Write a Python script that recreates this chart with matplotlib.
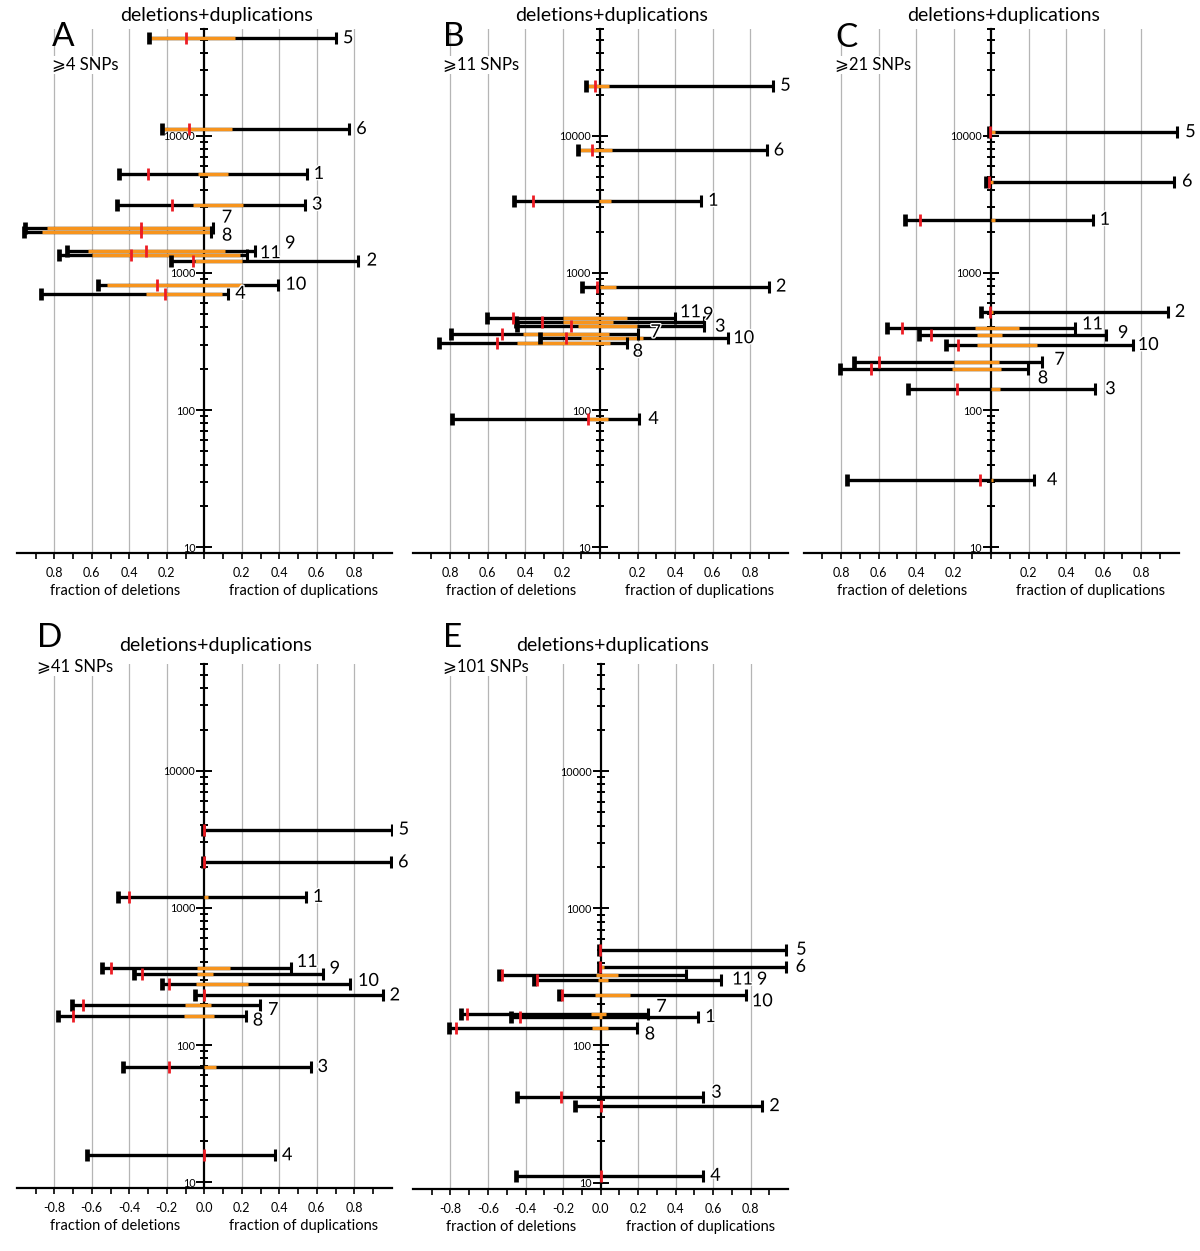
import numpy as np
import matplotlib
matplotlib.use('Agg')
import matplotlib.pyplot as plt
from matplotlib.ticker import LogLocator, NullFormatter
import matplotlib.patheffects as pe

plt.rcParams['font.family'] = ['Lato', 'DejaVu Sans']

#### data (bar ids 1..11, order kept by id) ####
ids = [1, 2, 3, 4, 5, 6, 7, 8, 9, 10, 11]

# A: >=4 SNPs
a_size = [5270, 1230, 3150, 705, 51500, 11200, 2140, 2000, 1340, 822, 1440]
a_lo = [-0.455, -0.178, -0.464, -0.873, -0.295, -0.227, -0.955, -0.96, -0.773, -0.569, -0.734]
a_hi = [0.546, 0.818, 0.537, 0.128, 0.702, 0.773, 0.045, 0.035, 0.228, 0.395, 0.27]
a_olo = [-0.032, -0.05, -0.062, -0.311, -0.295, -0.227, -0.84, -0.867, -0.60, -0.52, -0.62]
a_ohi = [0.128, 0.20, 0.205, 0.093, 0.164, 0.146, 0.03, 0.03, 0.19, 0.2, 0.11]
a_mid = [-0.302, -0.062, -0.174, -0.21, -0.099, -0.082, -0.34, -0.335, -0.393, -0.25, -0.313]

# B: >=11 SNPs
b_size = [3360, 795, 413, 86, 23200, 7820, 357, 310, 441, 334, 467]
b_lo = [-0.459, -0.098, -0.445, -0.788, -0.076, -0.116, -0.797, -0.859, -0.448, -0.32, -0.601]
b_hi = [0.539, 0.901, 0.555, 0.21, 0.924, 0.889, 0.205, 0.142, 0.555, 0.684, 0.4]
b_olo = [-0.005, 0.0, -0.12, -0.066, -0.076, -0.116, -0.41, -0.444, -0.2, -0.1, -0.196]
b_ohi = [0.059, 0.084, 0.196, 0.044, 0.048, 0.066, 0.048, 0.053, 0.07, 0.23, 0.142]
b_mid = [-0.356, -0.014, -0.156, -0.066, -0.027, -0.041, -0.524, -0.548, -0.311, -0.183, -0.466]

# C: >=21 SNPs
c_size = [2440, 519, 142, 30.8, 10650, 4640, 225, 198, 352, 298, 394]
c_lo = [-0.459, -0.055, -0.441, -0.766, -0.01, -0.027, -0.731, -0.804, -0.384, -0.242, -0.553]
c_hi = [0.542, 0.943, 0.556, 0.229, 0.993, 0.976, 0.274, 0.196, 0.613, 0.756, 0.448]
c_olo = [0.0, -0.01, 0.0, 0.0, 0.0, -0.02, -0.197, -0.206, -0.076, -0.076, -0.085]
c_ohi = [0.02, 0.01, 0.05, 0.01, 0.02, 0.01, 0.044, 0.053, 0.06, 0.244, 0.149]
c_mid = [-0.379, -0.005, -0.18, -0.059, -0.005, -0.01, -0.6, -0.641, -0.322, -0.174, -0.476]

# D: >=41 SNPs
d_size = [1203, 230, 69.2, 15.7, 3730, 2150, 196, 164, 331, 279, 365]
d_lo = [-0.462, -0.05, -0.435, -0.624, -0.005, -0.005, -0.704, -0.779, -0.373, -0.224, -0.544]
d_hi = [0.542, 0.951, 0.567, 0.377, 0.999, 0.996, 0.297, 0.221, 0.631, 0.777, 0.461]
d_olo = [0.0, -0.005, 0.0, 0.0, -0.005, -0.005, -0.103, -0.108, -0.04, -0.046, -0.037]
d_ohi = [0.02, 0.005, 0.062, 0.0, 0.005, 0.005, 0.036, 0.053, 0.048, 0.231, 0.137]
d_mid = [-0.4, 0.0, -0.188, 0.0, 0.0, 0.0, -0.649, -0.702, -0.331, -0.188, -0.498]

# E: >=101 SNPs
e_size = [161, 36.1, 42.3, 11.2, 500, 374, 170, 133, 302, 232, 329]
e_lo = [-0.48, -0.138, -0.448, -0.452, -0.01, -0.01, -0.745, -0.807, -0.356, -0.223, -0.543]
e_hi = [0.521, 0.863, 0.548, 0.548, 0.99, 0.987, 0.255, 0.193, 0.642, 0.775, 0.456]
e_olo = [-0.01, 0.0, 0.0, 0.0, 0.0, 0.0, -0.05, -0.046, -0.016, -0.027, -0.023]
e_ohi = [0.01, 0.0, 0.0, 0.0, 0.0, 0.02, 0.027, 0.039, 0.039, 0.158, 0.092]
e_mid = [-0.427, 0.0, -0.209, 0.0, -0.005, -0.005, -0.714, -0.768, -0.337, -0.204, -0.523]

panel_letters = ['A', 'B', 'C', 'D', 'E']
snp_texts = ['⩾4 SNPs', '⩾11 SNPs', '⩾21 SNPs', '⩾41 SNPs', '⩾101 SNPs']
xlab_abs = ['0.8', '0.6', '0.4', '0.2', '0.2', '0.4', '0.6', '0.8']
xlab_signed = ['-0.8', '-0.6', '-0.4', '-0.2', '0.0', '0.2', '0.4', '0.6', '0.8']
ymajor = [10, 100, 1000, 10000]
ymajor_lab = ['10', '100', '1000', '10000']

#### layout (pixels of the 1200x1251 picture) ####
W, H = 1200, 1251
AX_W, AX_H = 375, 524.7
# left px, bottom px, signed labels, title centre, letter pos, snp pos
layout = [
    (16.8, 553.3, False, (217, 15), (52, 37), (52, 65)),
    (412.5, 553.3, False, (612, 15), (443, 37), (443, 65)),
    (803.5, 553.3, False, (1004, 15), (835, 38), (835, 65)),
    (16.8, 1188.3, True, (216, 646), (37, 638), (37, 667)),
    (413.0, 1188.7, True, (613, 646), (443, 638), (443, 667)),
]

# label nudges in pixels (dx, dy), default (7, 0)
nudges = [
    {7: (9, 10), 8: (11, -4), 11: (5, -2), 9: (38, 12), 2: (9, 0)},
    {11: (5, 6), 9: (-1, 7), 3: (11, -1), 7: (12, 2), 10: (5, 0), 8: (6, -9), 4: (9, 0)},
    {11: (7, 4), 9: (12, 2), 10: (5, 0), 7: (12, 2), 8: (10, -9), 3: (10, 0), 4: (13, 0), 5: (8, 0), 6: (8, 0)},
    {11: (6, 6), 9: (7, 5), 10: (8, 3), 7: (8, -5), 8: (7, -5)},
    {5: (10, 0), 6: (10, 0), 11: (46, -5), 9: (36, 0), 10: (6, -6), 7: (8, 7), 8: (8, -6), 3: (8, 4)},
]

panels = [
    (a_size, a_lo, a_hi, a_olo, a_ohi, a_mid),
    (b_size, b_lo, b_hi, b_olo, b_ohi, b_mid),
    (c_size, c_lo, c_hi, c_olo, c_ohi, c_mid),
    (d_size, d_lo, d_hi, d_olo, d_ohi, d_mid),
    (e_size, e_lo, e_hi, e_olo, e_ohi, e_mid),
]

ORANGE = '#f7941d'
RED = '#ed1c24'
GRID = '#b5b5b5'

fig = plt.figure(figsize=(W / 100, H / 100), dpi=100)


def fx(px):
    return px / W


def fy(py):
    return 1 - py / H


for k in range(5):
    left, bottom, signed, tpos, lpos, spos = layout[k]
    size, lo, hi, olo, ohi, mid = panels[k]
    ax = fig.add_axes([fx(left), fy(bottom), AX_W / W, AX_H / H])
    ax.set_xlim(-1, 1)
    ax.set_yscale('log')
    ax.set_ylim(9.02, 60500)
    ax.patch.set_alpha(0)

    for s in ['top', 'right']:
        ax.spines[s].set_visible(False)
    ax.spines['left'].set_position(('data', 0))
    ax.spines['left'].set_linewidth(1.6)
    ax.spines['bottom'].set_linewidth(1.6)
    ax.spines['left'].set_zorder(2)

    for g in [-0.8, -0.6, -0.4, -0.2, 0.2, 0.4, 0.6, 0.8]:
        ax.axvline(g, color=GRID, lw=0.9, zorder=0)

    # y axis (log, on x=0)
    ax.set_yticks(ymajor)
    ax.set_yticklabels(ymajor_lab)
    ax.yaxis.set_minor_locator(LogLocator(base=10, subs=np.arange(2, 10)))
    ax.yaxis.set_minor_formatter(NullFormatter())
    ax.tick_params(axis='y', which='major', direction='inout', length=11, width=1.4,
                   labelsize=7.8, pad=1)
    ax.tick_params(axis='y', which='minor', direction='inout', length=6, width=1.4)

    # x axis
    if signed:
        ax.set_xticks([-0.8, -0.6, -0.4, -0.2, 0.0, 0.2, 0.4, 0.6, 0.8])
        ax.set_xticklabels(xlab_signed)
        ax.set_xticks([-0.9, -0.7, -0.5, -0.3, -0.1, 0.1, 0.3, 0.5, 0.7, 0.9], minor=True)
    else:
        ax.set_xticks([-0.8, -0.6, -0.4, -0.2, 0.2, 0.4, 0.6, 0.8])
        ax.set_xticklabels(xlab_abs)
        ax.set_xticks([-0.9, -0.7, -0.5, -0.3, -0.1, 0.0, 0.1, 0.3, 0.5, 0.7, 0.9], minor=True)
    ax.tick_params(axis='x', which='both', direction='out', length=4, width=1.2,
                   labelsize=9, pad=6)

    # bars
    for i in range(len(ids)):
        y = size[i]
        ax.plot([lo[i], hi[i]], [y, y], color='black', lw=2.4, solid_capstyle='butt', zorder=3)
        if ohi[i] > olo[i]:
            ax.plot([olo[i], ohi[i]], [y, y], color=ORANGE, lw=2.4, solid_capstyle='butt', zorder=4)
        ax.plot([lo[i]], [y], marker='|', ms=9, mew=3.4, color='black', zorder=5)
        ax.plot([hi[i]], [y], marker='|', ms=9, mew=2.2, color='black', zorder=5)
        ax.plot([mid[i]], [y], marker='|', ms=8, mew=2.0, color=RED, zorder=6)
        dx, dy = nudges[k].get(ids[i], (7, 0))
        t = ax.annotate(str(ids[i]), xy=(hi[i], y), xytext=(dx, dy), textcoords='offset pixels',
                        ha='left', va='center', fontsize=13, zorder=7)
        t.set_path_effects([pe.withStroke(linewidth=2, foreground='white')])

    # axis labels
    ax.annotate('fraction of deletions', xy=(-0.474, 0), xycoords=('data', 'axes fraction'),
                xytext=(0, -38), textcoords='offset pixels', ha='center', va='center', fontsize=10.5)
    ax.annotate('fraction of duplications', xy=(0.532, 0), xycoords=('data', 'axes fraction'),
                xytext=(0, -38), textcoords='offset pixels', ha='center', va='center', fontsize=10.5)

    fig.text(fx(tpos[0]), fy(tpos[1]), 'deletions+duplications', ha='center', va='center', fontsize=14)
    fig.text(fx(lpos[0]), fy(lpos[1]), panel_letters[k], ha='left', va='center', fontsize=24)
    fig.text(fx(spos[0]), fy(spos[1]), snp_texts[k], ha='left', va='center', fontsize=12,
             bbox=dict(facecolor='white', edgecolor='none', pad=1))

fig.savefig('out.png', dpi=100)
